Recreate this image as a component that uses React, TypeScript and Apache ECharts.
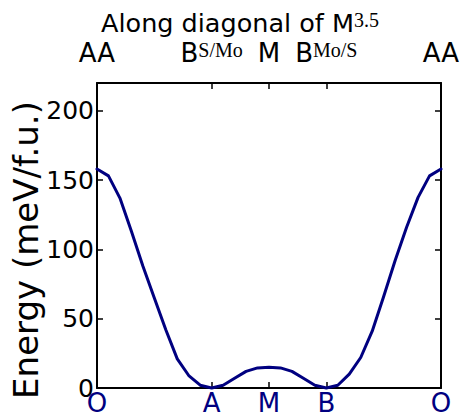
import React, { useEffect, useRef } from "react";
import * as echarts from "echarts";

// path coordinate (index along the diagonal, 0..30)
const pathIndex = [
  0, 1, 2, 3, 4, 5, 6, 7, 8, 9, 10, 11, 12, 13, 14, 15, 16, 17, 18, 19, 20,
  21, 22, 23, 24, 25, 26, 27, 28, 29, 30,
];
// energy in meV/f.u.
const energies = [
  158, 153, 137, 113, 88, 65, 42, 21, 9, 2, 0, 2, 7, 12, 14.5, 15, 14.5,
  12, 7, 2, 0, 2, 10, 22, 41, 66, 92, 116, 137.5, 153, 158,
];

const bottomTickPos = [0, 10, 15, 20, 30];
const bottomTickLabels = ["O", "A", "M", "B", "O"];
const topTickPos = [0, 10, 15, 20, 30];
const topTickLabels = ["AA", "B{sup|S/Mo}", "M", "B{sup|Mo/S}", "AA"];
const yTicks = [0, 50, 100, 150, 200];

const NAVY = "#000080";
const SANS = "DejaVu Sans";
const SERIF = "Liberation Serif";

export default function App() {
  const ref = useRef<HTMLDivElement>(null);
  useEffect(() => {
    if (!ref.current) return;
    const chart = echarts.init(ref.current, undefined, { renderer: "svg" });
    const axisLine = { show: true, onZero: false, lineStyle: { color: "#000", width: 2 } };
    const labelMap = (pos: number[], labels: string[]) => (v: number) => {
      const i = pos.indexOf(Math.round(v));
      return i >= 0 ? labels[i] : "";
    };
    chart.setOption({
      animation: false,
      backgroundColor: "#fff",
      title: {
        text: "{a|Along diagonal of M}{b|3.5}",
        left: 96,
        top: 5,
        textStyle: {
          fontWeight: "normal",
          rich: {
            a: { fontFamily: SANS, fontSize: 25.5, color: "#000", fontWeight: "normal" },
            b: { fontFamily: SERIF, fontSize: 20, color: "#000", fontWeight: "normal", verticalAlign: "top" },
          },
        },
      },
      graphic: [
        {
          type: "text",
          x: 26,
          y: 250,
          rotation: Math.PI / 2,
          style: {
            text: "Energy (meV/f.u.)",
            fontFamily: SANS,
            fontSize: 34,
            fill: "#000",
            align: "center",
            verticalAlign: "middle",
          },
        },
      ],
      grid: { left: 97, right: 22, top: 83, bottom: 27 },
      xAxis: [
        {
          type: "value",
          position: "bottom",
          min: 0,
          max: 30,
          axisLine,
          splitLine: { show: false },
          axisTick: {
            show: true,
            inside: true,
            length: 6,
            customValues: [10, 15, 20],
            lineStyle: { color: "#000", width: 1.5 },
          },
          axisLabel: {
            customValues: bottomTickPos,
            formatter: labelMap(bottomTickPos, bottomTickLabels),
            color: NAVY,
            fontFamily: SANS,
            fontSize: 26,
            lineHeight: 22,
            margin: 4,
          },
        },
        {
          type: "value",
          position: "top",
          min: 0,
          max: 30,
          axisLine,
          splitLine: { show: false },
          axisTick: {
            show: true,
            inside: true,
            length: 6,
            customValues: [10, 15, 20],
            lineStyle: { color: "#000", width: 1.5 },
          },
          axisLabel: {
            customValues: topTickPos,
            formatter: labelMap(topTickPos, topTickLabels),
            color: "#000",
            fontFamily: SANS,
            fontSize: 26,
            margin: 17,
            rich: {
              sup: { fontFamily: SERIF, fontSize: 20, color: "#000", verticalAlign: "top" },
            },
          },
        },
      ],
      yAxis: [
        {
          type: "value",
          position: "left",
          min: 0,
          max: 220,
          interval: 50,
          axisLine,
          splitLine: { show: false },
          axisTick: { show: true, inside: true, length: 6, lineStyle: { color: "#000", width: 1.5 } },
          axisLabel: {
            formatter: (v: number) => (yTicks.includes(v) ? String(v) : ""),
            color: "#000",
            fontFamily: SANS,
            fontSize: 25,
            margin: 3,
          },
        },
        {
          type: "value",
          position: "right",
          min: 0,
          max: 220,
          interval: 50,
          axisLine,
          splitLine: { show: false },
          axisTick: { show: true, inside: true, length: 6, lineStyle: { color: "#000", width: 1.5 } },
          axisLabel: { show: false },
        },
      ],
      series: [
        {
          type: "line",
          xAxisIndex: 0,
          yAxisIndex: 0,
          data: pathIndex.map((x, i) => [x, energies[i]]),
          showSymbol: false,
          symbol: "none",
          clip: false,
          lineStyle: { color: NAVY, width: 3, join: "round", cap: "round" },
        },
      ],
    });
    return () => chart.dispose();
  }, []);
  return (
    <div
      ref={ref}
      style={{ position: "fixed", left: 0, top: 0, width: 463, height: 416, background: "#fff" }}
    />
  );
}
